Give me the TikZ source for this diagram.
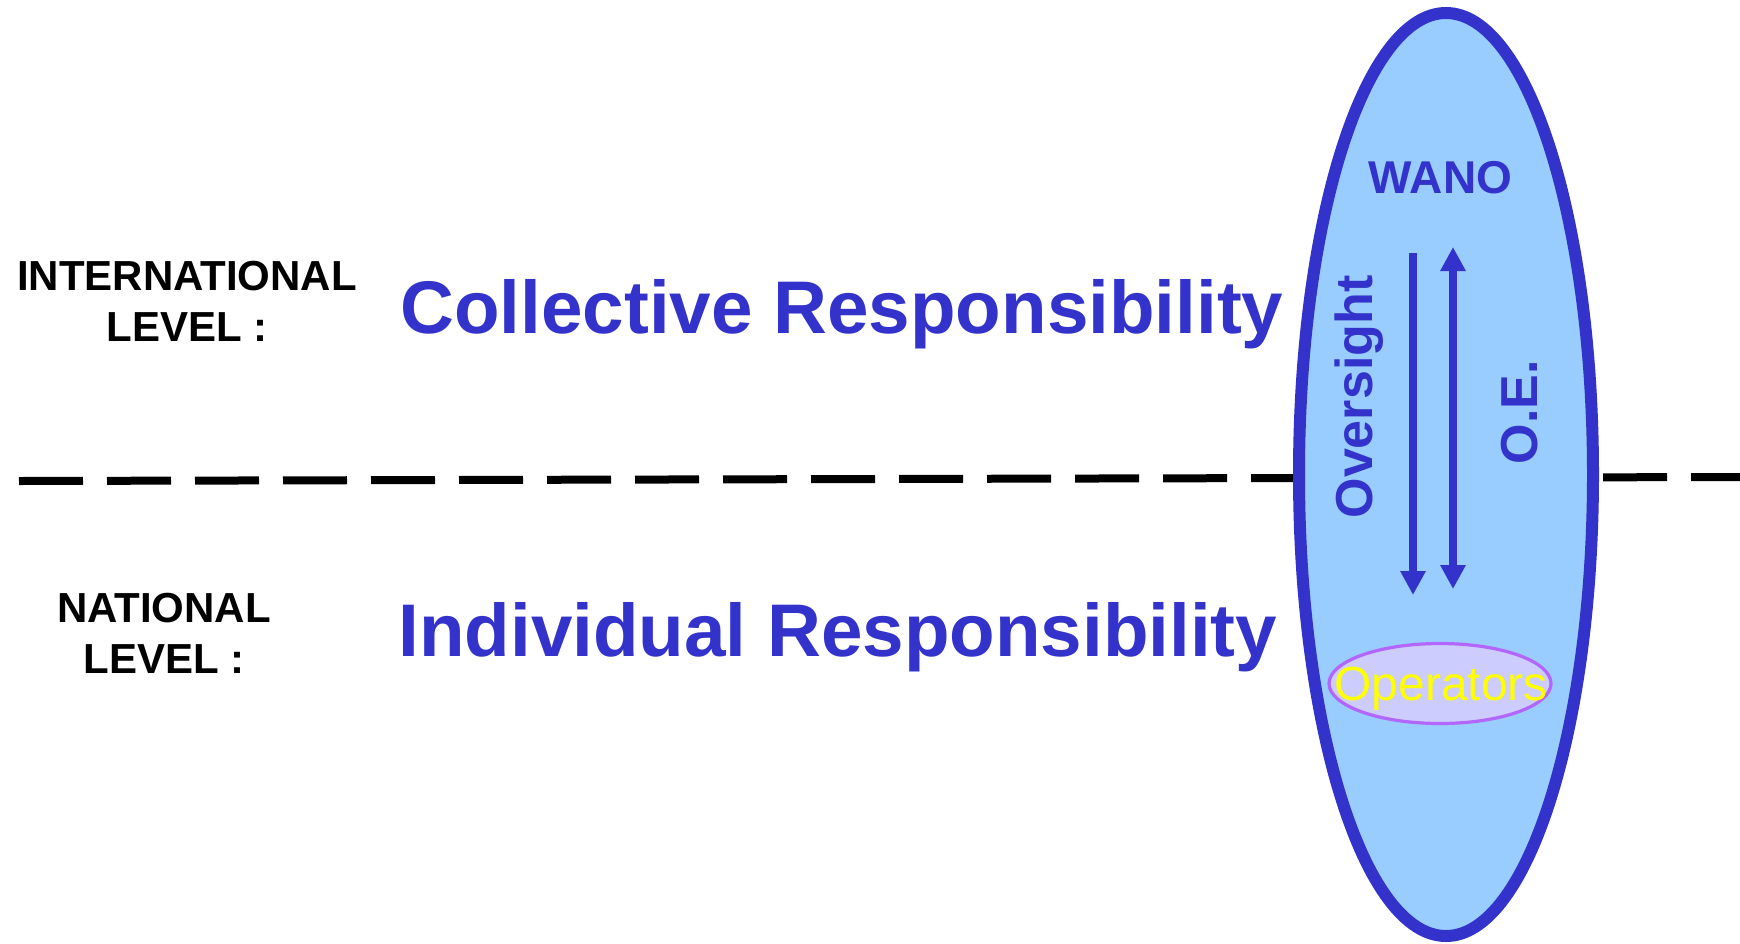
\documentclass[tikz,border=0pt]{standalone}
\usepackage{fontspec}
\setmainfont{Liberation Sans}
\usetikzlibrary{arrows.meta,shapes.geometric}

\definecolor{wanoblue}{HTML}{3333CC}
\definecolor{skyfill}{HTML}{99CCFF}
\definecolor{opsfill}{HTML}{CCCCFF}
\definecolor{opsline}{HTML}{B266FF}
\definecolor{opsyellow}{HTML}{FFFF00}

\tikzset{
    levellabel/.style={align=center, font=\bfseries\fontsize{21}{25.5}\selectfont},
    resptext/.style={anchor=base west, inner sep=0pt, text=wanoblue, font=\bfseries\fontsize{37.3}{45}\selectfont},
    sidetext/.style={rotate=90, anchor=base, inner sep=0pt, text=wanoblue, font=\bfseries\fontsize{26}{30}\selectfont},
    flow/.style={line width=4pt, wanoblue, -{Triangle[width=12pt,length=12pt]}}
}

\begin{document}
\begin{tikzpicture}[x=0.5pt, y=-0.5pt]

    \useasboundingbox (0,0) rectangle (1740,943);

    % Divider between the two levels
    \draw[line width=4pt, dash pattern=on 32pt off 12pt] (19,481) -- (1740,477);

    % Level labels
    \node[levellabel] (intl) at (187,301.5) {INTERNATIONAL\\LEVEL :};
    \node[levellabel] (natl) at (164,633) {NATIONAL\\LEVEL :};

    % Responsibilities
    \node[resptext] (collective) at (400,333) {Collective Responsibility};
    \node[resptext] (individual) at (398,656) {Individual Responsibility};

    % WANO ellipse
    \node[ellipse, draw=wanoblue, fill=skyfill, line width=6pt, inner sep=0pt,
          minimum width=147pt, minimum height=461.5pt] (wano) at (1446,474.5) {};
    \node[anchor=base, inner sep=0pt, text=wanoblue, font=\bfseries\fontsize{23}{27}\selectfont]
        (wanolabel) at (1440.5,193) {WANO};

    % Operators
    \node[ellipse, draw=opsline, fill=opsfill, line width=1.6pt, inner sep=0pt,
          minimum width=111pt, minimum height=40pt] (ops) at (1440,683.5) {};
    \node[anchor=base, inner sep=0pt, text=opsyellow, font=\fontsize{24}{28}\selectfont]
        (opslabel) at (1441,700) {Operators};

    % Oversight and O.E. flows
    \node[sidetext] (oversight) at (1372,397) {Oversight};
    \node[sidetext] (oe) at (1537,412) {O.E.};
    \coordinate (ovtop) at (1413,253);
    \coordinate (ovbot) at (1413,595);
    \coordinate (oetop) at (1453,247);
    \coordinate (oebot) at (1453,589);
    \draw[flow] (ovtop) -- (ovbot);
    \draw[flow, {Triangle[width=12pt,length=12pt]}-{Triangle[width=12pt,length=12pt]}] (oebot) -- (oetop);

\end{tikzpicture}
\end{document}
